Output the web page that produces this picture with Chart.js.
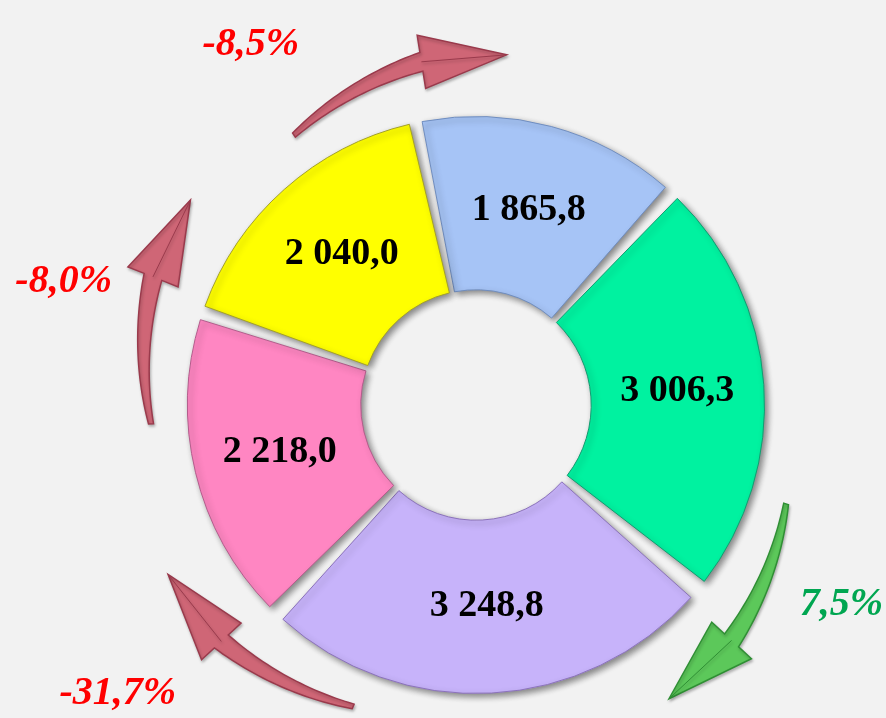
<!DOCTYPE html>
<html>
<head>
<meta charset="utf-8">
<script src="https://cdn.jsdelivr.net/npm/chart.js@4"></script>
<style>
    html, body { margin: 0; padding: 0; background: #F2F2F2; }
    #wrap { width: 886px; height: 718px; position: relative; }
</style>
</head>
<body>
<div id="wrap"><canvas id="ringChart"></canvas></div>
<script>
// segment values, clockwise from the top
const values = [1865.8, 3006.3, 3248.8, 2218.0, 2040.0];
const valueLabels = ["1 865,8", "3 006,3", "3 248,8", "2 218,0", "2 040,0"];
const colors = ["#A6C4F6", "#00F2A0", "#C7B3FA", "#FF86C2", "#FFFF00"];
const borders = ["#6F8DBF", "#159A70", "#8B72BA", "#B45C8C", "#A3A02A"];

// change arrows: text, segment where the arrow crosses in, growth or fall
const changeLabels = ["-8,5%", "7,5%", "-31,7%", "-8,0%"];
const changeAt = [0, 2, 3, 4];
const changeUp = [false, true, false, false];

document.addEventListener("DOMContentLoaded", function () {
    const ctx = document.getElementById("ringChart").getContext("2d");
    const rad = Math.PI / 180;

    function drawArrow(c, cx, cy, a0, a1, r0, r1, fill, stroke) {
        const aBase = a1 - (a1 - a0) * 0.36;
        const n = 30;
        const outer = [], inner = [];
        for (let i = 0; i <= n; i++) {
            const t = i / n;
            const a = a0 + t * (aBase - a0);
            const r = r0 + (r1 - r0) * t;
            const w = 2.5 + 7 * t;
            outer.push([cx + (r + w) * Math.cos(a), cy + (r + w) * Math.sin(a)]);
            inner.push([cx + (r - w) * Math.cos(a), cy + (r - w) * Math.sin(a)]);
        }
        const hw = 27;
        const tip = [cx + (r1 + 4) * Math.cos(a1), cy + (r1 + 4) * Math.sin(a1)];
        c.beginPath();
        outer.forEach((p, i) => i ? c.lineTo(p[0], p[1]) : c.moveTo(p[0], p[1]));
        c.lineTo(cx + (r1 + hw) * Math.cos(aBase), cy + (r1 + hw) * Math.sin(aBase));
        c.lineTo(tip[0], tip[1]);
        c.lineTo(cx + (r1 - hw) * Math.cos(aBase), cy + (r1 - hw) * Math.sin(aBase));
        for (let i = inner.length - 1; i >= 0; i--) c.lineTo(inner[i][0], inner[i][1]);
        c.closePath();
        c.fillStyle = fill;
        c.fill();
        c.lineWidth = 1.5;
        c.strokeStyle = stroke;
        c.stroke();
        // fold line of the head
        c.beginPath();
        c.moveTo(cx + r1 * Math.cos(aBase), cy + r1 * Math.sin(aBase));
        c.lineTo(tip[0], tip[1]);
        c.lineWidth = 1;
        c.stroke();
    }

    const ringDecor = {
        id: "ringDecor",
        beforeDatasetsDraw(chart, args, opts) {
            const arcs = chart.getDatasetMeta(0).data;
            const c = chart.ctx;
            c.save();
            c.shadowColor = "rgba(0,0,0,0.25)";
            c.shadowBlur = 3;
            c.shadowOffsetX = 1;
            c.shadowOffsetY = 2;
            changeLabels.forEach(function (txt, i) {
                const arc = arcs[changeAt[i]];
                const b = arc.startAngle;
                const R = arc.outerRadius;
                drawArrow(c, arc.x, arc.y, b - 22 * rad, b + 17 * rad, R + 46, R + 68,
                    changeUp[i] ? "#5CC85A" : "#CF6676",
                    changeUp[i] ? "#2F8F34" : "#9A3A4C");
            });
            c.restore();
            c.save();
            c.shadowColor = "rgba(0,0,0,0.45)";
            c.shadowBlur = 6;
            c.shadowOffsetX = 3;
            c.shadowOffsetY = 3;
        },
        afterDatasetsDraw(chart, args, opts) {
            const c = chart.ctx;
            c.restore();
            const arcs = chart.getDatasetMeta(0).data;
            c.save();
            c.textAlign = "center";
            c.textBaseline = "middle";
            c.fillStyle = "#000";
            c.font = "bold 38px 'Liberation Serif', 'Times New Roman', serif";
            arcs.forEach(function (arc, i) {
                const p = arc.tooltipPosition();
                c.fillText(valueLabels[i], p.x, p.y);
            });
            c.font = "italic bold 40px 'Liberation Serif', 'Times New Roman', serif";
            changeLabels.forEach(function (txt, i) {
                const arc = arcs[changeAt[i]];
                const a = arc.startAngle + opts.placement[i][0] * rad;
                const r = arc.outerRadius * opts.placement[i][1];
                c.fillStyle = changeUp[i] ? "#00A651" : "#FF0000";
                c.fillText(txt, arc.x + r * Math.cos(a), arc.y + r * Math.sin(a));
            });
            c.restore();
        }
    };

    new Chart(ctx, {
        type: "doughnut",
        data: {
            labels: valueLabels,
            datasets: [{
                data: values,
                backgroundColor: colors,
                borderColor: borders,
                borderWidth: 1,
                spacing: 18
            }]
        },
        options: {
            responsive: true,
            maintainAspectRatio: false,
            animation: false,
            rotation: -12,
            cutout: "38%",
            layout: {
                padding: { top: 116, bottom: 24, left: 187, right: 121 }
            },
            plugins: {
                legend: { display: false },
                tooltip: { enabled: false },
                ringDecor: {
                    placement: [[-20, 1.52], [-11, 1.49], [7, 1.645], [-2, 1.54]]
                }
            }
        },
        plugins: [ringDecor]
    });
});
</script>
</body>
</html>
